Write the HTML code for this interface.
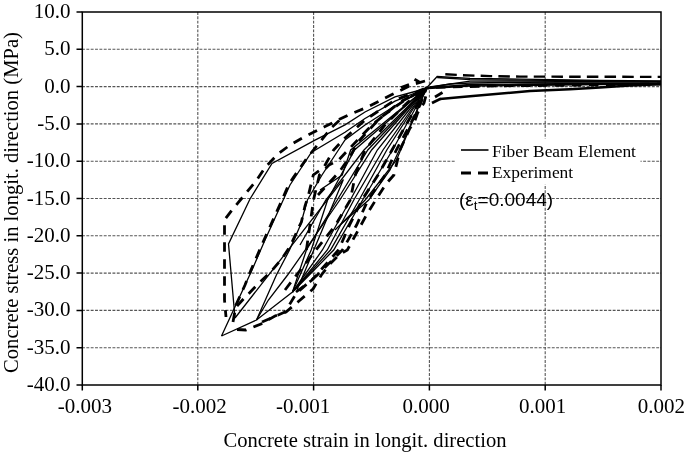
<!DOCTYPE html>
<html><head><meta charset="utf-8">
<style>
html,body{margin:0;padding:0;background:#fff;}
body{width:685px;height:453px;overflow:hidden;}
svg{display:block;will-change:transform;}
.t{font-family:"Liberation Serif",serif;font-size:21px;fill:#000;}
.g{stroke:#555;stroke-width:1.1;stroke-dasharray:2.9 1.45;fill:none;}
.ax{stroke:#000;stroke-width:1.5;fill:none;}
.s{stroke:#000;stroke-width:1.3;fill:none;stroke-linejoin:miter;}
.d{stroke:#000;stroke-width:2.8;fill:none;stroke-dasharray:9.5 7.5;}
</style></head>
<body>
<svg width="685" height="453" viewBox="0 0 685 453">
<rect x="0" y="0" width="685" height="453" fill="#fff"/>
<!-- gridlines -->
<g>
<line x1="82" y1="49.3" x2="661" y2="49.3" class="g"/>
<line x1="82" y1="86.6" x2="661" y2="86.6" class="g"/>
<line x1="82" y1="123.9" x2="661" y2="123.9" class="g"/>
<line x1="82" y1="161.2" x2="661" y2="161.2" class="g"/>
<line x1="82" y1="198.5" x2="661" y2="198.5" class="g"/>
<line x1="82" y1="235.8" x2="661" y2="235.8" class="g"/>
<line x1="82" y1="273.1" x2="661" y2="273.1" class="g"/>
<line x1="82" y1="310.4" x2="661" y2="310.4" class="g"/>
<line x1="82" y1="347.7" x2="661" y2="347.7" class="g"/>
<line x1="197.8" y1="12" x2="197.8" y2="385" class="g"/>
<line x1="313.6" y1="12" x2="313.6" y2="385" class="g"/>
<line x1="429.4" y1="12" x2="429.4" y2="385" class="g"/>
<line x1="545.2" y1="12" x2="545.2" y2="385" class="g"/>
</g>
<!-- CURVES -->
<g id="curves">
<polyline class="s" points="426.5,88 415,91.5 395,96.8 365,112 345,124.9 315,140.2 272,163.4 250,199 228.5,243.9 235,318"/>
<polyline class="s" points="235,318 343.4,179.4 297,290"/>
<polyline class="s" points="300,245 325.8,200 364,150 426.5,88"/>
<polyline class="s" points="221.5,336 252,270 265,240 283.2,200 290,185 296.6,175 311.3,152.5 345,132.2 365,118.5 395,101.2 415,93 426.5,88"/>
<polyline class="s" points="221.5,336 256.5,320 292.5,292 309.3,275 333.7,250 362.6,200 392.5,150 426.5,88"/>
<polyline class="s" points="256.5,320 276.4,275 289.5,250 300.5,225 307.4,200 322,175 338.4,150 345,140 365,125 395,105.7 415,95 426.5,88"/>
<polyline class="s" points="292.5,292 306.4,250 337.2,200 367.8,150 426.5,88"/>
<polyline class="s" points="256.5,320 268.4,300 287.6,275 310,243.2 339.8,200 371.6,150 426.5,88"/>
<polyline class="s" points="292.5,292 311.2,250 327.6,200 354.5,150 426.5,88"/>
<polyline class="s" points="292.5,292 322.4,250 350.3,200 377.3,150 426.5,88"/>
<polyline class="s" points="292.5,292 327.3,250 353.8,200 383,150 426.5,88"/>
<polyline class="s" points="292.5,292 330.5,250 359.1,200 386.8,150 426.5,88"/>
<polyline class="s" points="335,230 365.2,200 396.5,160 426.5,88"/>
<polyline class="s" points="340,225 368.7,200 390,170 404,140 426.5,88"/>
<polyline class="s" points="320,190 342.2,175 350.7,150 426.5,88"/>
<polyline class="s" points="426.5,88 437.2,76.5 470,78.3 520,79.2 600,80.3 661,80.8"/>
<polyline class="s" points="437.2,77.5 470,79.6 520,80.2 600,80.9 661,81.3"/>
<polyline class="s" points="426.5,88 450,84 470,83 520,82.3 600,82.2 661,82.2"/>
<polyline class="s" points="427,88 470,84.5 520,84 600,83.5 661,83.3"/>
<polyline class="s" points="428,88.5 470,86 520,85.5 600,84.5 661,84"/>
<polyline class="s" points="430,87 470,81.2 520,81.2 600,81.6 661,81.8"/>
<polyline class="s" points="430,87.5 470,85.2 520,84.7 600,84 661,83.7"/>
<polyline class="d" points="445.3,74.3 463,75.2 490,76.1 520,76.6 661,76.9" style="stroke-dasharray:11.5 6.2;stroke-width:2.4"/>
<polyline class="d" points="436,87.3 500,85.8 560,85.3 620,84.5 661,83.8"/>
<polyline class="d" points="435,97 442.5,92.5"/>
<polyline class="d" points="432,103 440,99 446,98.2"/>
<polyline class="d" points="401,87.5 409,84.5"/>
<polyline class="d" points="414.5,79.2 420,82.5"/>
<polyline class="d" points="425,81 411.5,85 391,95 367.8,107 347.7,115.3 324,127 304,137 290,145 278,154 265.5,167 256,181 242,198 232,210 224.5,220 224.5,300 226,317"/>
<polyline class="d" points="237,329.5 246,330 261,324 275,316 286,312 299,301 313,289 321.4,275 330,264 339,255 347.3,250 361,225 367,214 375.7,200 386,184 393.9,175 400,150 410,128 413.4,125 417.6,113 424,103 428,88"/>
<polyline class="d" points="233,322 236,305 245,285 251,270 264,240 282,200 288.5,185 293,178 307,158 318,144.5 331.8,127.3 342,118"/>
<polyline class="d" points="237,306 244,298.5 259,283 271,271.5 282,258.5 290,246.5 294.4,237.2 298,229 301.4,222 305,206 308.4,195.4 313.3,175 324,167 333.6,150 345,138 365,120 395,100 426.5,88"/>
<polyline class="d" points="285,290 296.5,275 316,250 335.6,225 350.3,200 355.3,175 365,150 385,125 408,102 426.5,88"/>
<polyline class="d" points="306.4,250 310,225 313.5,200 319.4,175 329,165 338.7,160 350,148 372,125 400,102 426.5,88"/>
<polyline class="d" points="318,195 329,183 340,171 351,155 358,142 380,118 405,100 426.5,88"/>
<polyline class="d" points="262,322 285,312 296.5,293 317.3,275 342.5,250 356.6,225 368,200 385.1,175 396.3,150 410,125 420,105 426.5,88"/>
<polyline class="d" points="296,292 312,280 338.5,250 349.6,225 362,200 378,175 392,150 406,125 418,104 426.5,88"/>
<polyline class="s" style="stroke-width:2.5" points="440,99 470,96.3 530,91 570,89.3 600,87.6 630,85.6 661,84.2"/>
</g>
<!-- legend box -->
<rect x="456" y="138.5" width="184.5" height="46" fill="#fff"/>
<line x1="461" y1="150" x2="488.5" y2="150" stroke="#000" stroke-width="1.6"/>
<line x1="461" y1="173" x2="488.5" y2="173" stroke="#000" stroke-width="3" stroke-dasharray="10 7"/>
<text class="t" x="492" y="156.7" style="font-size:17.4px">Fiber Beam Element</text>
<text class="t" x="492" y="178.4" style="font-size:17.4px">Experiment</text>
<text x="459" y="205.8" style="font-family:'Liberation Sans',sans-serif;font-size:19px">(ε<tspan dy="4" style="font-size:13.5px">t</tspan><tspan dy="-4">=0.0044)</tspan></text>
<!-- axes box -->
<rect x="82.3" y="12" width="578.7" height="373" class="ax"/>
<!-- ticks -->
<g class="ax">
<path d="M76.5 12H82.3M76.5 49.3H82.3M76.5 86.6H82.3M76.5 123.9H82.3M76.5 161.2H82.3M76.5 198.5H82.3M76.5 235.8H82.3M76.5 273.1H82.3M76.5 310.4H82.3M76.5 347.7H82.3M76.5 385H82.3"/>
<path d="M82.3 385V390.5M197.8 385V390.5M313.6 385V390.5M429.4 385V390.5M545.2 385V390.5M661 385V390.5"/>
</g>
<!-- y tick labels -->
<g class="t" text-anchor="end">
<text x="70.5" y="18">10.0</text>
<text x="70.5" y="55.3">5.0</text>
<text x="70.5" y="92.6">0.0</text>
<text x="70.5" y="129.9">-5.0</text>
<text x="70.5" y="167.2">-10.0</text>
<text x="70.5" y="204.5">-15.0</text>
<text x="70.5" y="241.8">-20.0</text>
<text x="70.5" y="279.1">-25.0</text>
<text x="70.5" y="316.4">-30.0</text>
<text x="70.5" y="353.7">-35.0</text>
<text x="70.5" y="391">-40.0</text>
</g>
<!-- x tick labels -->
<g class="t" text-anchor="middle">
<text x="84.9" y="412.7">-0.003</text>
<text x="199.7" y="412.7">-0.002</text>
<text x="303.2" y="412.7">-0.001</text>
<text x="426" y="412.7">0.000</text>
<text x="542.7" y="412.7">0.001</text>
<text x="661.3" y="412.7">0.002</text>
</g>
<!-- axis titles -->
<text class="t" x="365" y="447.3" text-anchor="middle" style="font-size:20.6px">Concrete strain in longit. direction</text>
<text class="t" transform="translate(17.7 202.5) rotate(-90)" text-anchor="middle" style="font-size:20.6px">Concrete stress in longit. direction (MPa)</text>
</svg>
</body></html>
